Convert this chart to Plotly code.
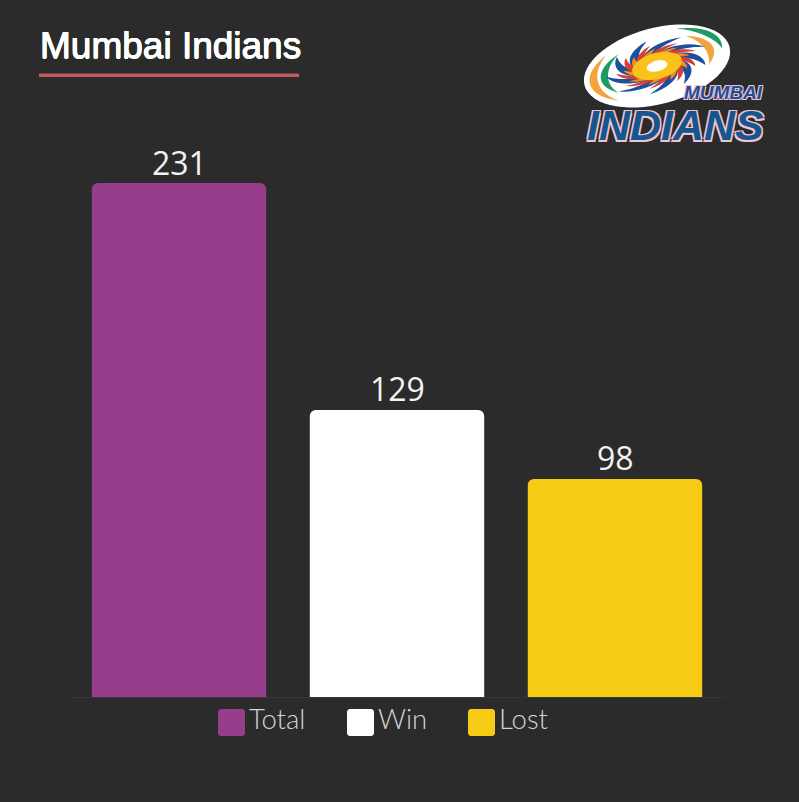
import math
import plotly.graph_objects as go

categories = ["Total", "Win", "Lost"]
values = [231, 129, 98]
colors = ["#963d8c", "#ffffff", "#f7cb15"]
title_text = "Mumbai Indians"
logo_small = "MUMBAI"
logo_big = "INDIANS"

W, H = 799, 802
L, R, T, B = 70, 724, 100, 697
BG = "#2b2b2b"


def px(x):
    return (x - L) / (R - L)


def py(y):
    return (B - y) / (B - T)


def path(points, close=True):
    d = "M" + " L".join(f"{px(x):.5f},{py(y):.5f}" for x, y in points)
    return d + (" Z" if close else "")


# logo geometry helpers: polar coordinates on a tilted ellipse
CX, CY, TILT = 657, 66, math.radians(-15)


def ell(r, deg, a=75, b=38):
    t = math.radians(deg)
    x, y = r * a * math.cos(t), r * b * math.sin(t)
    return (CX + x * math.cos(TILT) - y * math.sin(TILT),
            CY + x * math.sin(TILT) + y * math.cos(TILT))


def arc(r, d0, d1, w):
    n = 24
    pts = []
    for i in range(n + 1):
        s = i / n
        pts.append(ell(r + w * math.sin(math.pi * s), d0 + (d1 - d0) * s))
    for i in range(n, -1, -1):
        s = i / n
        pts.append(ell(r - w * math.sin(math.pi * s), d0 + (d1 - d0) * s))
    return pts


def blade(r0, r1, deg, sweep, w):
    n = 14
    outer, inner = [], []
    for i in range(n + 1):
        s = i / n
        r = r0 + (r1 - r0) * s
        d = deg + sweep * s
        hw = w * (1 - s) ** 0.8
        outer.append(ell(r, d + hw))
        inner.append(ell(r, d - hw))
    return outer + inner[::-1]


def rounded_square(x, y, size, rad):
    n = 6
    pts = []
    corners = [(x + size - rad, y + rad, -90), (x + size - rad, y + size - rad, 0),
               (x + rad, y + size - rad, 90), (x + rad, y + rad, 180)]
    for cx, cy, start in corners:
        for i in range(n + 1):
            t = math.radians(start + 90 * i / n)
            pts.append((cx + rad * math.cos(t), cy + rad * math.sin(t)))
    return pts


shapes = []


def add_poly(points, color):
    shapes.append(dict(type="path", xref="paper", yref="paper", path=path(points),
                       fillcolor=color, line=dict(width=0), layer="above"))


# title rule
shapes.append(dict(type="rect", xref="paper", yref="paper", x0=px(39), x1=px(299),
                   y0=py(77), y1=py(73.5), fillcolor="#c25b5f", line=dict(width=0)))

# logo
add_poly([ell(1.0, d) for d in range(0, 360, 6)], "#ffffff")
add_poly(arc(0.87, 135, 225, 0.055), "#f2a33a")
add_poly(arc(0.72, 145, 232, 0.05), "#1f9a63")
add_poly(arc(0.90, -65, 0, 0.05), "#1f9a63")
add_poly(arc(0.74, -50, 25, 0.055), "#f2a33a")
for k in range(9):
    add_poly(blade(0.20, 0.70, k * 40, 66, 20), "#1c4f9c")
for k in range(9):
    add_poly(blade(0.20, 0.56, k * 40 + 14, 54, 17), "#d8402f")
for k in range(9):
    add_poly(blade(0.16, 0.46, k * 40 + 26, 48, 20), "#f58a1f")
add_poly([ell(0.34, d) for d in range(0, 360, 10)], "#fbc21e")
add_poly([ell(0.14, d) for d in range(0, 360, 10)], "#ffffff")

# legend swatches
swatch_left = [218, 347, 468]
for left, c in zip(swatch_left, colors):
    shapes.append(dict(type="path", xref="paper", yref="paper",
                       path=path(rounded_square(left, 709, 27, 3)),
                       fillcolor=c, line=dict(width=0)))

OUT = "#f0c4cf"
annotations = [
    dict(text=title_text, x=px(38), y=py(45.5), xref="paper", yref="paper", xanchor="left", yanchor="middle",
         showarrow=False,
         font=dict(family="Liberation Sans", size=37, color="#ffffff",
                   shadow="0.5px 0 0 #ffffff, -0.5px 0 0 #ffffff, 0 0.5px 0 #ffffff, 0 -0.5px 0 #ffffff")),
    dict(text=f"<b><i>{logo_small}</i></b>", x=px(765), y=py(93), xref="paper", yref="paper", xanchor="right",
         yanchor="middle", showarrow=False,
         font=dict(family="Liberation Sans", size=19, color="#1c4f9c",
                   shadow=f"1px 1px 0 {OUT}, -1px -1px 0 {OUT}, 1px -1px 0 {OUT}, -1px 1px 0 {OUT}")),
    dict(text=f"<b><i>{logo_big}</i></b>", x=px(766), y=py(125), xref="paper", yref="paper", xanchor="right",
         yanchor="middle", showarrow=False,
         font=dict(family="Liberation Sans", size=43, color="#15568f",
                   shadow=f"1.5px 1.5px 0 {OUT}, -1.5px -1.5px 0 {OUT}, 1.5px -1.5px 0 {OUT}, -1.5px 1.5px 0 {OUT}")),
]
for left, name in zip(swatch_left, categories):
    annotations.append(dict(text=name, x=px(left + 29), y=py(718.5), xref="paper", yref="paper",
                            xanchor="left", yanchor="middle", showarrow=False,
                            font=dict(family="Lato", size=27.5, color="#d4d4d4", weight=300)))
for cat, val in zip(categories, values):
    annotations.append(dict(text=str(val), x=cat, y=val, xref="x", yref="y", xanchor="center",
                            yanchor="middle", yshift=21, showarrow=False,
                            font=dict(family="Open Sans", size=32, color="#f2f2f2")))

fig = go.Figure(go.Bar(
    x=categories, y=values,
    marker=dict(color=colors, line=dict(width=0), cornerradius=6),
    showlegend=False, hoverinfo="skip",
))
fig.update_layout(
    width=W, height=H, autosize=False,
    margin=dict(l=L, r=W - R, t=T, b=H - B),
    paper_bgcolor=BG, plot_bgcolor=BG, bargap=0.2,
    shapes=shapes, annotations=annotations,
    xaxis=dict(showticklabels=False, ticks="", showgrid=False, zeroline=False,
               showline=True, linecolor="#363636", linewidth=1),
    yaxis=dict(range=[0, (B - T) / 2.225], visible=False, showgrid=False, zeroline=False),
)
fig.write_html("out.html", config=dict(displayModeBar=False),
               post_script="document.body.style.margin='0';document.body.style.overflow='hidden';document.body.style.background='#2b2b2b';")
